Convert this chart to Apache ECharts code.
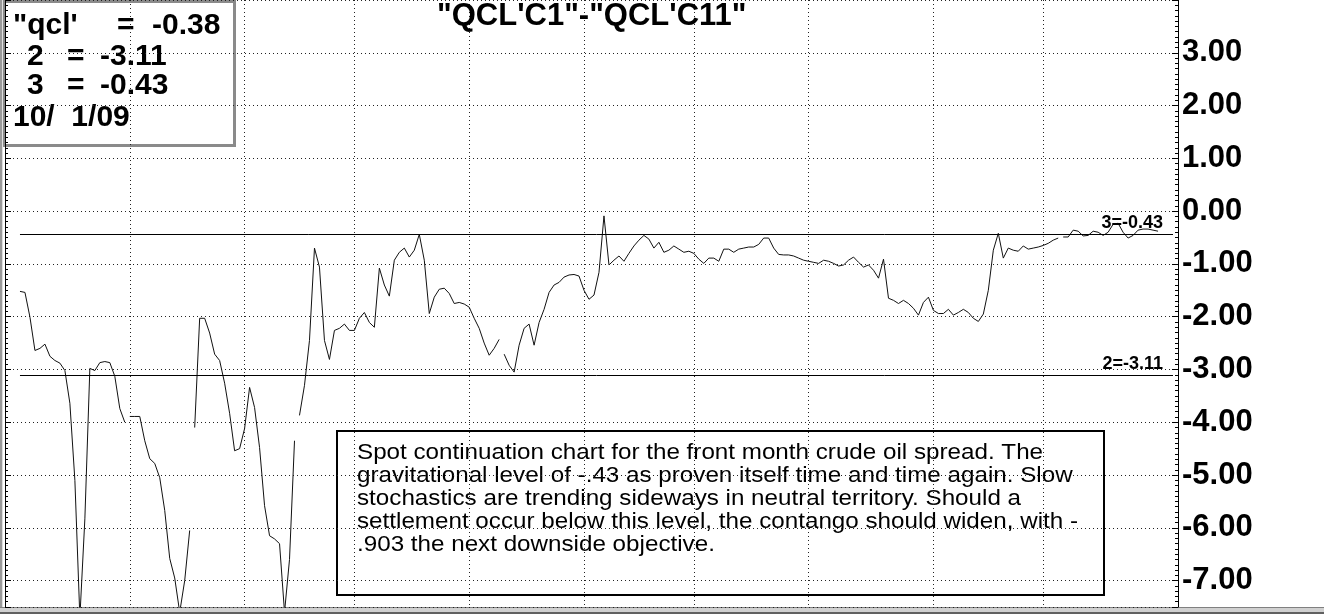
<!DOCTYPE html>
<html>
<head>
<meta charset="utf-8">
<script src="https://cdn.jsdelivr.net/npm/echarts@6/dist/echarts.min.js"></script>
<style>
  html, body { margin: 0; padding: 0; background: #fff; }
  #chart { width: 1324px; height: 614px; }
</style>
</head>
<body>
<div id="chart"></div>
<script>
// daily spread values, null where there is no print
const values = [
  null, null, null,
  -1.52, -1.54, -2.01, -2.64, -2.60, -2.52, -2.75, -2.83, -2.88, -3.02, -3.64, -5.10, -7.70, -5.83,
  -2.98, -3.02, -2.87, -2.85, -2.87, -3.13, -3.74, -4.00,
  -3.89, -3.89, -3.89, -4.35, -4.69, -4.78, -5.05, -5.67, -6.58, -6.95, -7.60, -7.00, -6.05,
  -4.10, -2.03, -2.03, -2.31, -2.71, -2.83, -3.26, -3.83, -4.54, -4.50, -4.12, -3.34, -3.72,
  -4.48, -5.58, -6.15, -6.21, -6.30, -7.60, -6.60, -4.35,
  -3.87, -3.30, -2.45, -0.70, -1.06, -2.45, -2.81, -2.26, -2.22, -2.14, -2.26, -2.26, -2.03,
  -1.92, -2.11, -2.20, -1.08, -1.40, -1.61, -0.93, -0.78, -0.70, -0.87, -0.74, -0.44, -0.93,
  -1.94, -1.63, -1.48, -1.46, -1.56, -1.75, -1.73, -1.76, -1.82, -2.03, -2.22, -2.50, -2.73,
  -2.60, -2.43,
  -2.71, -2.92, -3.05, -2.54, -2.22, -2.14, -2.54, -2.11, -1.86, -1.54, -1.40, -1.35, -1.25,
  -1.21, -1.20, -1.23, -1.50, -1.67, -1.59, -1.16, -0.09, -1.02, -0.93, -0.85, -0.95, -0.80,
  -0.66, -0.55, -0.46, -0.53, -0.70, -0.59, -0.78, -0.74, -0.66, -0.72, -0.78, -0.76, -0.80,
  -0.91, -0.99, -0.89, -0.89, -0.95, -0.72, -0.72, -0.78, -0.72, -0.70, -0.68, -0.68, -0.63,
  -0.51, -0.51, -0.70, -0.82, -0.83, -0.83, -0.85, -0.89, -0.93, -0.95, -0.97, -0.99, -0.93,
  -0.95, -0.99, -1.04, -1.02, -0.93, -0.87, -0.97, -1.06, -1.02, -1.12, -1.27, -0.91, -1.65,
  -1.69, -1.75, -1.69, -1.75, -1.84, -1.97, -1.73, -1.63, -1.88, -1.94, -1.94, -1.86, -1.97,
  -1.92, -1.86, -1.92, -2.03, -2.09, -1.95, -1.50, -0.74, -0.42, -0.89, -0.70, -0.74, -0.76,
  -0.66, -0.72, -0.70, -0.68, -0.65, -0.61, -0.55, -0.51,
  -0.49, -0.49, -0.36, -0.38, -0.47, -0.46, -0.38, -0.40, -0.46, -0.40, -0.25, -0.23, -0.40,
  -0.51, -0.46, -0.36, -0.34, -0.34, -0.36, -0.38,
  null, null, null, null
];
// first day of each new front contract (line breaks there)
const rolls = [25, 38, 59, 100, 212];
// first trading day of each month (vertical grid)
const monthStarts = [25, 48, 70, 93, 116, 138, 161, 186, 208];
const days = values.map((v, i) => i);

const lastValue = -0.38;
const level2 = -3.11;
const level3 = -0.43;
const lastDate = '10/  1/09';
const note = [
  'Spot continuation chart for the front month crude oil spread. The',
  'gravitational level of -.43 as proven itself time and time again. Slow',
  'stochastics are trending sideways in neutral territory. Should a',
  'settlement occur below this level, the contango should widen, with -',
  '.903 the next downside objective.'
];

const chart = echarts.init(document.getElementById('chart'));
const bounds = [0].concat(rolls, [values.length]);
const dotted = { color: '#222', width: 1, type: [1, 3] };
const lineEnd = values.length - 2;

const series = [];
for (let k = 0; k < bounds.length - 1; k++) {
  series.push({
    type: 'line',
    data: values.map((v, i) => (i >= bounds[k] && i < bounds[k + 1] ? v : null)),
    symbol: 'none',
    yAxisIndex: 0,
    lineStyle: { color: '#111', width: 1 },
    animation: false
  });
}
series[0].markLine = {
  silent: true,
  symbol: 'none',
  animation: false,
  lineStyle: { color: '#000', width: 1, type: 'solid' },
  label: {
    position: 'insideEndTop',
    color: '#000',
    fontFamily: 'Liberation Sans',
    fontWeight: 'bold',
    fontSize: 18,
    distance: [10, 2]
  },
  data: [
    [{ coord: [3, level3], label: { formatter: '3=' + level3.toFixed(2) } }, { coord: [lineEnd, level3] }],
    [{ coord: [3, level2], label: { formatter: '2=' + level2.toFixed(2) } }, { coord: [lineEnd, level2] }]
  ]
};

const bigFont = { fontFamily: 'Liberation Sans', fontWeight: 'bold', fontSize: 30, fill: '#000' };
function legendText(x, y, text) {
  return { type: 'text', left: x, top: y, style: Object.assign({ text: text }, bigFont) };
}

chart.setOption({
  backgroundColor: '#fff',
  title: {
    text: '"QCL\'C1"-"QCL\'C11"',
    left: 437,
    top: 1,
    padding: 0,
    textStyle: { fontFamily: 'Liberation Sans', fontWeight: 'bold', fontSize: 31, color: '#000' }
  },
  grid: { left: 5, right: 146, top: 0, bottom: 7 },
  xAxis: {
    type: 'category',
    data: days,
    boundaryGap: false,
    axisLine: { show: false },
    axisTick: { show: false },
    axisLabel: { show: false },
    splitLine: {
      show: true,
      interval: (i) => monthStarts.indexOf(i) >= 0,
      lineStyle: dotted
    }
  },
  yAxis: [
    {
      type: 'value',
      position: 'right',
      min: -7.5,
      max: 4,
      splitNumber: 11,
      axisLine: { show: true, lineStyle: { color: '#000', width: 1 } },
      axisTick: { show: true, inside: true, length: 6, lineStyle: { color: '#000' } },
      minorTick: { show: true, splitNumber: 10, length: 3, lineStyle: { color: '#000' } },
      axisLabel: {
        showMinLabel: false,
        showMaxLabel: false,
        margin: 4,
        color: '#000',
        fontFamily: 'Liberation Sans',
        fontWeight: 'bold',
        fontSize: 31,
        formatter: (v) => (Number.isInteger(v) ? v.toFixed(2) : '')
      },
      splitLine: { show: true, lineStyle: dotted }
    },
    {
      type: 'value',
      position: 'left',
      min: -7.5,
      max: 4,
      splitNumber: 11,
      axisLine: { show: true, lineStyle: { color: '#000', width: 1 } },
      axisTick: { show: true, inside: true, length: 6, lineStyle: { color: '#000' } },
      minorTick: { show: true, splitNumber: 10, length: 3, lineStyle: { color: '#000' } },
      axisLabel: { show: false },
      splitLine: { show: false }
    }
  ],
  series: series,
  graphic: [
    { type: 'rect', left: 0, top: 0, shape: { width: 2, height: 607 }, style: { fill: '#9a9a9a' } },
    { type: 'rect', left: 2, top: 0, shape: { width: 1, height: 607 }, style: { fill: '#e0e0e0' } },
    { type: 'rect', left: 0, top: 607, shape: { width: 1324, height: 7 }, style: { fill: '#d0d0d0' } },
    { type: 'rect', left: 0, top: 607, shape: { width: 1324, height: 1 }, style: { fill: '#808080' } },
    { type: 'rect', left: 0, top: 612, shape: { width: 1324, height: 2 }, style: { fill: '#606060' } },
    {
      type: 'rect', left: 3, top: 0,
      shape: { width: 230, height: 144 },
      style: { fill: '#fff', stroke: '#8a8a8a', lineWidth: 3 }
    },
    legendText(13, 11, '"qcl\''),
    legendText(117, 11, '='),
    legendText(152, 11, lastValue.toFixed(2)),
    legendText(27, 42, '2'),
    legendText(67, 42, '='),
    legendText(100, 42, level2.toFixed(2)),
    legendText(27, 71, '3'),
    legendText(67, 71, '='),
    legendText(100, 71, level3.toFixed(2)),
    legendText(13, 103, lastDate),
    {
      type: 'rect', left: 336, top: 430,
      shape: { width: 767, height: 164 },
      style: { fill: '#fff', stroke: '#000', lineWidth: 2 }
    },
    {
      type: 'text', x: 357, y: 441, scaleX: 1.1,
      style: {
        text: note.join('\n'),
        fontFamily: 'Liberation Sans',
        fontSize: 22,
        lineHeight: 23,
        verticalAlign: 'top',
        fill: '#000'
      }
    }
  ]
});
</script>
</body>
</html>
